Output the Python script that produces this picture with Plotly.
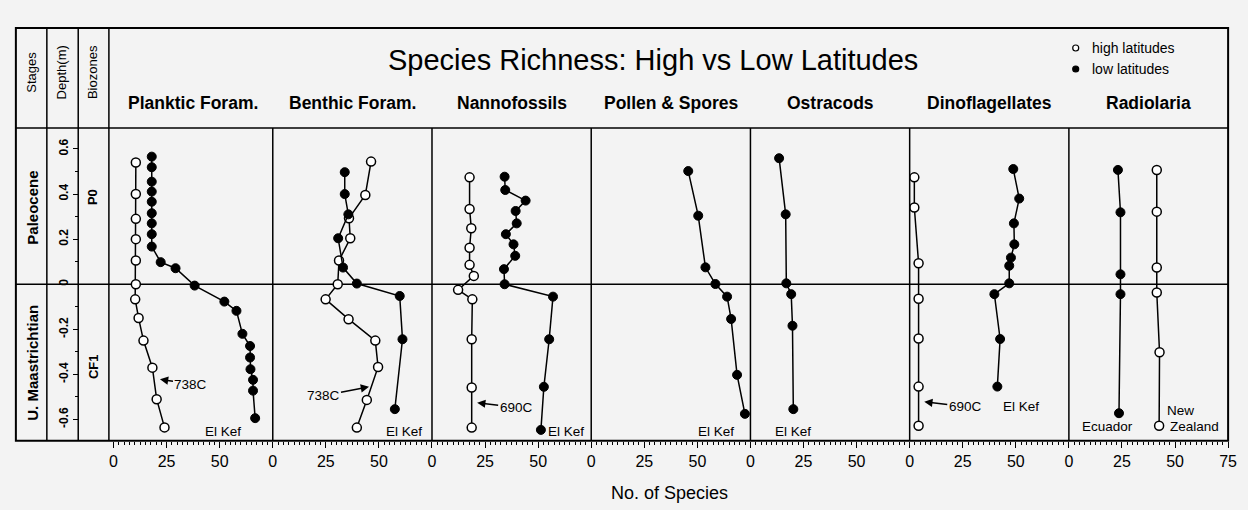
import plotly.graph_objects as go

W, H = 1248, 510

# ---------------- data ----------------
PANEL_TITLES = ["Planktic Foram.", "Benthic Foram.", "Nannofossils", "Pollen & Spores",
                "Ostracods", "Dinoflagellates", "Radiolaria"]

X_TICKS = [0, 25, 50]
X_TICKS_LAST = [0, 25, 50, 75]
DEPTH_TICKS = [0.6, 0.4, 0.2, 0, -0.2, -0.4, -0.6]
DEPTH_TICK_LABELS = ["0.6", "0.4", "0.2", "0", "-0.2", "-0.4", "-0.6"]

# Planktic foraminifera
planktic_high_depth = [0.54, 0.40, 0.29, 0.20, 0.105, 0.0, -0.067, -0.15, -0.25, -0.37, -0.51, -0.635]
planktic_high_n = [10.5, 10.5, 10.5, 10.5, 10.5, 10.5, 10.2, 11.8, 14.1, 18.3, 20.3, 24.0]
planktic_low_depth = [0.566, 0.519, 0.455, 0.411, 0.366, 0.315, 0.270, 0.222, 0.167, 0.098, 0.071,
                      -0.006, -0.077, -0.118, -0.220, -0.274, -0.325, -0.377, -0.424, -0.472, -0.594]
planktic_low_n = [18, 18, 18, 18, 18, 18, 18, 18, 18, 22.2, 29.2,
                  38.2, 52.2, 57.9, 60.7, 64.3, 64.3, 64.5, 65.7, 65.7, 66.7]

# Benthic foraminifera
benthic_high_depth = [0.544, 0.396, 0.293, 0.204, 0.105, 0.0, -0.067, -0.155, -0.25, -0.367, -0.513, -0.636]
benthic_high_n = [46.3, 43.6, 35.9, 36.5, 31.2, 30.6, 24.9, 35.7, 48.3, 49.6, 44.3, 39.6]
benthic_low_depth = [0.497, 0.400, 0.310, 0.204, 0.074, 0.003, -0.052, -0.244, -0.554]
benthic_low_n = [33.9, 33.9, 35.6, 30.8, 33.1, 39.6, 59.8, 61.1, 57.5]

# Nannofossils
nanno_high_depth = [0.474, 0.334, 0.248, 0.162, 0.086, 0.037, -0.025, -0.067, -0.244, -0.458, -0.636]
nanno_high_n = [17.7, 17.7, 18.5, 17.7, 17.7, 19.7, 12.3, 19.0, 18.7, 18.7, 18.7]
nanno_low_depth = [0.477, 0.418, 0.371, 0.325, 0.270, 0.222, 0.177, 0.126, 0.067, 0.0,
                   -0.055, -0.244, -0.455, -0.646]
nanno_low_n = [34.2, 34.5, 44.1, 39.4, 39.9, 34.8, 38.4, 39.2, 33.9, 34.2, 57.0, 55.2, 52.7, 51.3]

# Pollen & spores
pollen_low_depth = [0.502, 0.304, 0.075, 0.001, -0.055, -0.154, -0.402, -0.575]
pollen_low_n = [45.7, 50.4, 53.8, 58.5, 64.0, 65.9, 68.7, 72.4]

# Ostracods
ostra_low_depth = [0.559, 0.310, 0.004, -0.044, -0.184, -0.554]
ostra_low_n = [13.5, 16.6, 16.9, 19.2, 19.8, 20.2]

# Dinoflagellates
dino_high_depth = [0.474, 0.340, 0.093, -0.064, -0.241, -0.454, -0.628]
dino_high_n = [2.2, 2.2, 4.2, 4.2, 4.2, 4.2, 4.2]
dino_low_depth = [0.511, 0.380, 0.270, 0.177, 0.118, 0.082, 0.004, -0.044, -0.243, -0.454]
dino_low_n = [48.8, 51.6, 49.1, 49.3, 47.7, 46.9, 46.9, 39.9, 42.6, 41.3]

# Radiolaria
radio_high_depth = [0.507, 0.322, 0.074, -0.037, -0.302, -0.628]
radio_high_n = [41.4, 41.4, 41.4, 41.4, 42.7, 42.5]
radio_low_depth = [0.507, 0.319, 0.044, -0.044, -0.572]
radio_low_n = [23.1, 24.3, 24.3, 24.3, 23.6]

SERIES = [
    (0, "high", planktic_high_depth, planktic_high_n),
    (0, "low", planktic_low_depth, planktic_low_n),
    (1, "high", benthic_high_depth, benthic_high_n),
    (1, "low", benthic_low_depth, benthic_low_n),
    (2, "high", nanno_high_depth, nanno_high_n),
    (2, "low", nanno_low_depth, nanno_low_n),
    (3, "low", pollen_low_depth, pollen_low_n),
    (4, "low", ostra_low_depth, ostra_low_n),
    (5, "high", dino_high_depth, dino_high_n),
    (5, "low", dino_low_depth, dino_low_n),
    (6, "high", radio_high_depth, radio_high_n),
    (6, "low", radio_low_depth, radio_low_n),
]

# ---------------- layout geometry (pixels) ----------------
def px(x):
    return x / W

def py(y):
    return 1 - y / H

FRAME_L, FRAME_R = 12, 1237
FRAME_T, HEAD_B, FRAME_B = 28, 128, 440.7
COL_LINES = [43.3, 75, 106]
P0 = 110.7
PW = (FRAME_R - P0) / 7.0
panel_starts = [P0 + PW * i for i in range(8)]

FONT = "Liberation Sans, Arial, Helvetica, sans-serif"
NARROW = "Liberation Sans Narrow, Arial Narrow, Liberation Sans, Arial, sans-serif"

fig = go.Figure()

for pi, kind, depth, vals in SERIES:
    ax_id = "x" if pi == 0 else f"x{pi + 1}"
    if kind == "high":
        marker = dict(symbol="circle", size=9, color="white", line=dict(color="black", width=1.5))
        name = "high latitudes"
    else:
        marker = dict(symbol="circle", size=9, color="black", line=dict(color="black", width=1))
        name = "low latitudes"
    fig.add_trace(go.Scatter(
        x=vals, y=depth, mode="lines+markers", name=name,
        line=dict(color="black", width=1.5), marker=marker,
        xaxis=ax_id, yaxis="y", showlegend=False, cliponaxis=False,
    ))

layout = dict(
    width=W, height=H, autosize=False,
    margin=dict(l=0, r=0, t=0, b=0, pad=0),
    paper_bgcolor="#f3f3f3", plot_bgcolor="#f3f3f3",
    showlegend=False,
    font=dict(family=FONT, color="black"),
)

y_dom = [py(FRAME_B), py(HEAD_B)]
layout["yaxis"] = dict(
    domain=y_dom, range=[-0.694, 0.693], anchor="free", position=px(75), side="left",
    tickmode="array", tickvals=DEPTH_TICKS, ticktext=DEPTH_TICK_LABELS,
    tickangle=-90, ticks="outside", ticklen=5, tickwidth=1.2, tickcolor="black",
    minor=dict(dtick=0.1, ticks="outside", ticklen=3, tickwidth=1, tickcolor="black"),
    tickfont=dict(family=FONT, size=12, color="black", weight="bold"),
    showgrid=False, zeroline=False, showline=False,
)

for i in range(7):
    key = "xaxis" if i == 0 else f"xaxis{i + 1}"
    layout[key] = dict(
        domain=[px(panel_starts[i]), px(panel_starts[i + 1])],
        range=[0, 75], anchor="y",
        tickmode="array", tickvals=X_TICKS_LAST if i == 6 else X_TICKS,
        ticks="outside", ticklen=6, tickwidth=1.2, tickcolor="black",
        minor=dict(dtick=2.5, ticks="outside", ticklen=3, tickwidth=1, tickcolor="black"),
        tickfont=dict(family=NARROW, size=16, color="black"),
        showgrid=False, zeroline=False, showline=False,
    )

shapes = []
line_black = dict(color="black", width=2)
# outer frame
shapes.append(dict(type="rect", xref="paper", yref="paper", x0=px(FRAME_L), x1=px(FRAME_R),
                   y0=py(FRAME_B), y1=py(FRAME_T), line=line_black, layer="above"))
# header bottom
shapes.append(dict(type="line", xref="paper", yref="paper", x0=px(FRAME_L), x1=px(FRAME_R),
                   y0=py(HEAD_B), y1=py(HEAD_B), line=dict(color="black", width=1.5)))
# columns of the left block
for cx in COL_LINES:
    shapes.append(dict(type="line", xref="paper", yref="paper", x0=px(cx), x1=px(cx),
                       y0=py(FRAME_B), y1=py(FRAME_T), line=dict(color="black", width=1.5)))
# panel separators
for sx in panel_starts[1:7]:
    shapes.append(dict(type="line", xref="paper", yref="paper", x0=px(sx), x1=px(sx),
                       y0=py(FRAME_B), y1=py(HEAD_B), line=dict(color="black", width=1.5)))
# stage boundary at depth 0
shapes.append(dict(type="line", xref="paper", yref="y", x0=px(FRAME_L), x1=px(FRAME_R),
                   y0=0, y1=0, line=dict(color="black", width=1.5), layer="below"))
# legend markers
for ly, fill in [(48, "white"), (69, "black")]:
    shapes.append(dict(type="circle", xref="paper", yref="paper",
                       xsizemode="pixel", ysizemode="pixel",
                       xanchor=px(1083), yanchor=py(ly), x0=-3, x1=3, y0=-3, y1=3,
                       fillcolor=fill, line=dict(color="black", width=1.2)))
layout["shapes"] = shapes

ann = []
def paper_text(text, x, y, size, bold=False, angle=0, family=FONT, xanchor="center"):
    ann.append(dict(text=f"<b>{text}</b>" if bold else text, xref="paper", yref="paper",
                    x=px(x), y=py(y), xanchor=xanchor, yanchor="middle", showarrow=False,
                    textangle=angle, font=dict(family=family, size=size, color="black")))

paper_text("Species Richness: High vs Low Latitudes", 656, 60, 29)
paper_text("Stages", 28, 72, 13, angle=-90)
paper_text("Depth(m)", 59, 72, 13, angle=-90)
paper_text("Biozones", 90, 72, 13, angle=-90)
paper_text("Paleocene", 28, 208, 15, bold=True, angle=-90)
paper_text("U. Maastrichtian", 28, 363, 15, bold=True, angle=-90)
paper_text("P0", 90, 197, 13, bold=True, angle=-90)
paper_text("CF1", 90, 367, 13, bold=True, angle=-90)
for i, t in enumerate(PANEL_TITLES):
    paper_text(t, (panel_starts[i] + panel_starts[i + 1]) / 2, 103, 17.5, bold=True)
paper_text("high latitudes", 1097, 48, 14, xanchor="left")
paper_text("low latitudes", 1097, 69, 14, xanchor="left")
paper_text("No. of Species", 672, 493, 18, family=NARROW)

def data_text(panel, text, x, y, xanchor="center"):
    ax_id = "x" if panel == 0 else f"x{panel + 1}"
    ann.append(dict(text=text, xref=ax_id, yref="y", x=x, y=y, xanchor=xanchor,
                    yanchor="middle", showarrow=False,
                    font=dict(family=FONT, size=13.5, color="black")))

def arrow_text(panel, text, x, y, axp, ayp):
    ax_id = "x" if panel == 0 else f"x{panel + 1}"
    ann.append(dict(text=text, xref=ax_id, yref="y", x=x, y=y, ax=axp, ay=ayp,
                    showarrow=True, arrowhead=2, arrowsize=1.1, arrowwidth=1.5,
                    arrowcolor="black", standoff=1,
                    font=dict(family=FONT, size=13.5, color="black")))

data_text(0, "El Kef", 51.4, -0.655)
data_text(1, "El Kef", 61.7, -0.655)
data_text(2, "El Kef", 63.1, -0.655)
data_text(3, "El Kef", 59.0, -0.655)
data_text(4, "El Kef", 19.9, -0.655)
data_text(5, "El Kef", 52.5, -0.544)
data_text(6, "Ecuador", 18.1, -0.633)
data_text(6, "Zealand", 46.5, -0.633, xanchor="left")
arrow_text(0, "738C", 21.4, -0.421, 32, 5)
arrow_text(1, "738C", 45.8, -0.454, -47, 9)
arrow_text(2, "690C", 20.8, -0.525, 40, 5)
arrow_text(5, "690C", 6.4, -0.521, 42, 5)
arrow_text(6, "New", 42.5, -0.439, 21, 27)
layout["annotations"] = ann

fig.update_layout(**layout)
fig.write_html(
    "out.html",
    config={"displayModeBar": False},
    post_script="document.body.style.margin='0px';document.body.style.overflow='hidden';",
)
